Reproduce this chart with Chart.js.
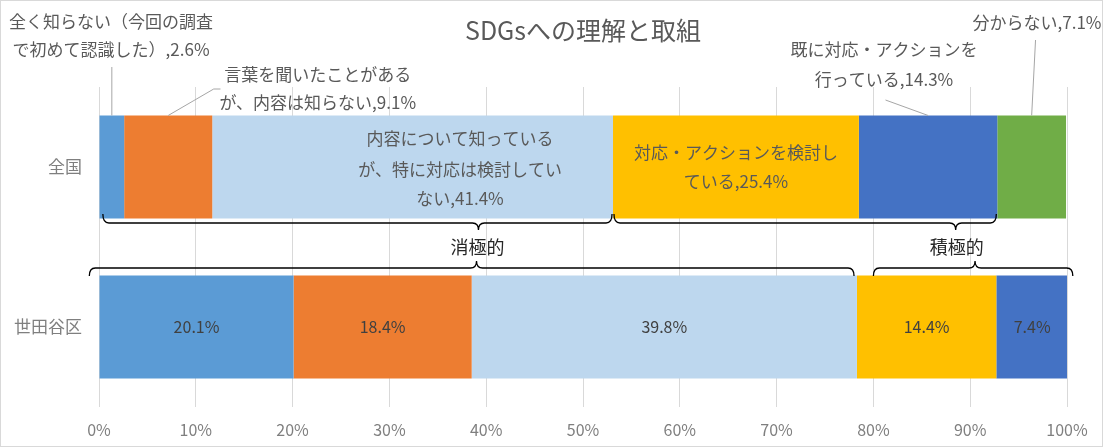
<!DOCTYPE html>
<html>
<head>
<meta charset="utf-8">
<script src="https://cdn.jsdelivr.net/npm/chart.js@4/dist/chart.umd.min.js"></script>
<style>
html,body{margin:0;padding:0;background:#fff;}
canvas{display:block;}
</style>
</head>
<body>
<canvas id="c" width="1103" height="447"></canvas>
<script>
// ---- data ----
const categories = ['全国', '世田谷区'];
const seriesNames = [
  '全く知らない（今回の調査で初めて認識した）',
  '言葉を聞いたことがあるが、内容は知らない',
  '内容について知っているが、特に対応は検討していない',
  '対応・アクションを検討している',
  '既に対応・アクションを行っている',
  '分からない'
];
const notAware      = [2.6, 20.1];
const heardOnly     = [9.1, 18.4];
const knowNoAction  = [41.4, 39.8];
const considering   = [25.4, 14.4];
const acting        = [14.3, 7.4];
const unknown       = [7.1, null];
const xTickValues   = [0, 10, 20, 30, 40, 50, 60, 70, 80, 90, 100];
// label line breaks for 全国 (value appended)
const nationalLabelLines = [
  ['全く知らない（今回の調査', 'で初めて認識した）'],
  ['言葉を聞いたことがある', 'が、内容は知らない'],
  ['内容について知っている', 'が、特に対応は検討してい', 'ない'],
  ['対応・アクションを検討し', 'ている'],
  ['既に対応・アクションを', '行っている'],
  ['分からない']
];
const groupNames = ['消極的', '積極的'];

const colors = ['#5B9BD5', '#ED7D31', '#BDD7EE', '#FFC000', '#4472C4', '#70AD47'];
const seriesData = [notAware, heardOnly, knowNoAction, considering, acting, unknown];

const FONT = '"Noto Sans CJK JP", "Noto Sans", sans-serif';

// label placement for 全国 (x in % of axis, y in px); layout only
const natLayout = [
  {x: 1.25, ys: [22, 50], leader: [[0, 'barTop'], [0, 67]]},
  {x: 22.6, ys: [75, 103], leader: [[0, 'barTop'], [4.7, 89], [5.4, 89]]},
  {x: 37.3, ys: [139, 170, 199]},
  {x: null, ys: [153, 182]},
  {x: 81.1, ys: [50, 80], leader: [[0, 'barTop'], [-4.4, 100]]},
  {x: 96.9, ys: [23], leader: [[0, 'barTop'], [0.4, 40]]}
];

// braces (x in %, layout only)
const braces = [
  {x0: 0.4, x1: 53.0, tip: 39.2, yEnd: 214, yLine: 223, yTip: 230},
  {x0: 53.2, x1: 92.7, tip: 88.5, yEnd: 214, yLine: 223, yTip: 230},
  {x0: -1.0, x1: 78.0, tip: 39.0, yEnd: 276, yLine: 268, yTip: 261},
  {x0: 80.0, x1: 100.6, tip: 90.5, yEnd: 276, yLine: 268, yTip: 261}
];
const groupLabelPos = [{x: 39.1, y: 247}, {x: 88.6, y: 247}];

const fmt = v => v.toFixed(1) + '%';

const overlay = {
  id: 'overlay',
  beforeDraw(chart) {
    const ctx = chart.ctx;
    ctx.save();
    ctx.fillStyle = '#fff';
    ctx.fillRect(0, 0, chart.width, chart.height);
    ctx.strokeStyle = '#d9d9d9';
    ctx.lineWidth = 1;
    ctx.strokeRect(0.5, 0.5, chart.width - 1, chart.height - 1);
    ctx.restore();
  },
  afterDatasetsDraw(chart) {
    const ctx = chart.ctx;
    const xs = chart.scales.x;
    const px = v => xs.getPixelForValue(v);
    ctx.save();
    // 全国 labels
    ctx.textAlign = 'center';
    ctx.textBaseline = 'middle';
    ctx.font = '17px ' + FONT;
    seriesData.forEach((arr, i) => {
      const v = arr[0];
      if (v == null) return;
      const el = chart.getDatasetMeta(i).data[0];
      const lay = natLayout[i];
      const lines = nationalLabelLines[i].slice();
      lines[lines.length - 1] = lines[lines.length - 1] + ',' + fmt(v);
      const cx = lay.x == null ? (el.x + el.base) / 2 : px(lay.x);
      if (lay.leader) {
        const segCenter = (el.x + el.base) / 2;
        const barTop = el.y - el.height / 2;
        ctx.strokeStyle = '#a6a6a6';
        ctx.lineWidth = 1;
        ctx.beginPath();
        lay.leader.forEach((p, k) => {
          const xx = segCenter + p[0] * (xs.width / 100);
          const yy = p[1] === 'barTop' ? barTop : p[1];
          if (k === 0) ctx.moveTo(xx, yy); else ctx.lineTo(xx, yy);
        });
        ctx.stroke();
      }
      ctx.fillStyle = '#595959';
      lines.forEach((t, k) => ctx.fillText(t, cx, lay.ys[k]));
    });
    // 世田谷区 labels
    ctx.font = '16px ' + FONT;
    ctx.fillStyle = '#404040';
    seriesData.forEach((arr, i) => {
      const v = arr[1];
      if (v == null) return;
      const el = chart.getDatasetMeta(i).data[1];
      ctx.fillText(fmt(v), (el.x + el.base) / 2, el.y);
    });
    // braces
    ctx.strokeStyle = '#000';
    ctx.lineWidth = 1.3;
    braces.forEach(b => {
      const x0 = px(b.x0), x1 = px(b.x1), t = px(b.tip);
      const r = 6;
      ctx.beginPath();
      ctx.moveTo(x0, b.yEnd);
      ctx.quadraticCurveTo(x0, b.yLine, x0 + r, b.yLine);
      ctx.lineTo(t - r, b.yLine);
      ctx.quadraticCurveTo(t, b.yLine, t, b.yTip);
      ctx.quadraticCurveTo(t, b.yLine, t + r, b.yLine);
      ctx.lineTo(x1 - r, b.yLine);
      ctx.quadraticCurveTo(x1, b.yLine, x1, b.yEnd);
      ctx.stroke();
    });
    ctx.font = '18px ' + FONT;
    ctx.fillStyle = '#262626';
    groupNames.forEach((g, i) => ctx.fillText(g, px(groupLabelPos[i].x), groupLabelPos[i].y));
    ctx.restore();
  }
};

new Chart(document.getElementById('c'), {
  type: 'bar',
  data: {
    labels: categories,
    datasets: seriesData.map((d, i) => ({
      label: seriesNames[i],
      data: d,
      backgroundColor: colors[i],
      borderWidth: 0,
      categoryPercentage: 1,
      barPercentage: 0.644
    }))
  },
  options: {
    indexAxis: 'y',
    responsive: false,
    animation: false,
    layout: {padding: {left: 0, right: 36, top: 0, bottom: 0}},
    plugins: {
      legend: {display: false},
      tooltip: {enabled: false},
      title: {
        display: true,
        fullSize: false,
        text: 'SDGsへの理解と取組',
        color: '#595959',
        font: {family: FONT, size: 25, weight: 'normal', lineHeight: 1.2},
        padding: {top: 15, bottom: 42}
      }
    },
    scales: {
      x: {
        stacked: true,
        min: 0,
        max: 100,
        afterBuildTicks: s => { s.ticks = xTickValues.map(v => ({value: v})); },
        afterFit: s => { s.height = 40; },
        ticks: {
          callback: v => v + '%',
          color: '#7f7f7f',
          font: {family: FONT, size: 16},
          padding: 13,
          maxRotation: 0
        },
        grid: {color: '#d9d9d9', drawTicks: false},
        border: {display: false}
      },
      y: {
        stacked: true,
        afterFit: s => { s.width = 99; },
        ticks: {
          color: '#7f7f7f',
          font: {family: FONT, size: 17},
          padding: 17
        },
        grid: {display: false, drawTicks: false},
        border: {display: false}
      }
    }
  },
  plugins: [overlay]
});
</script>
</body>
</html>
